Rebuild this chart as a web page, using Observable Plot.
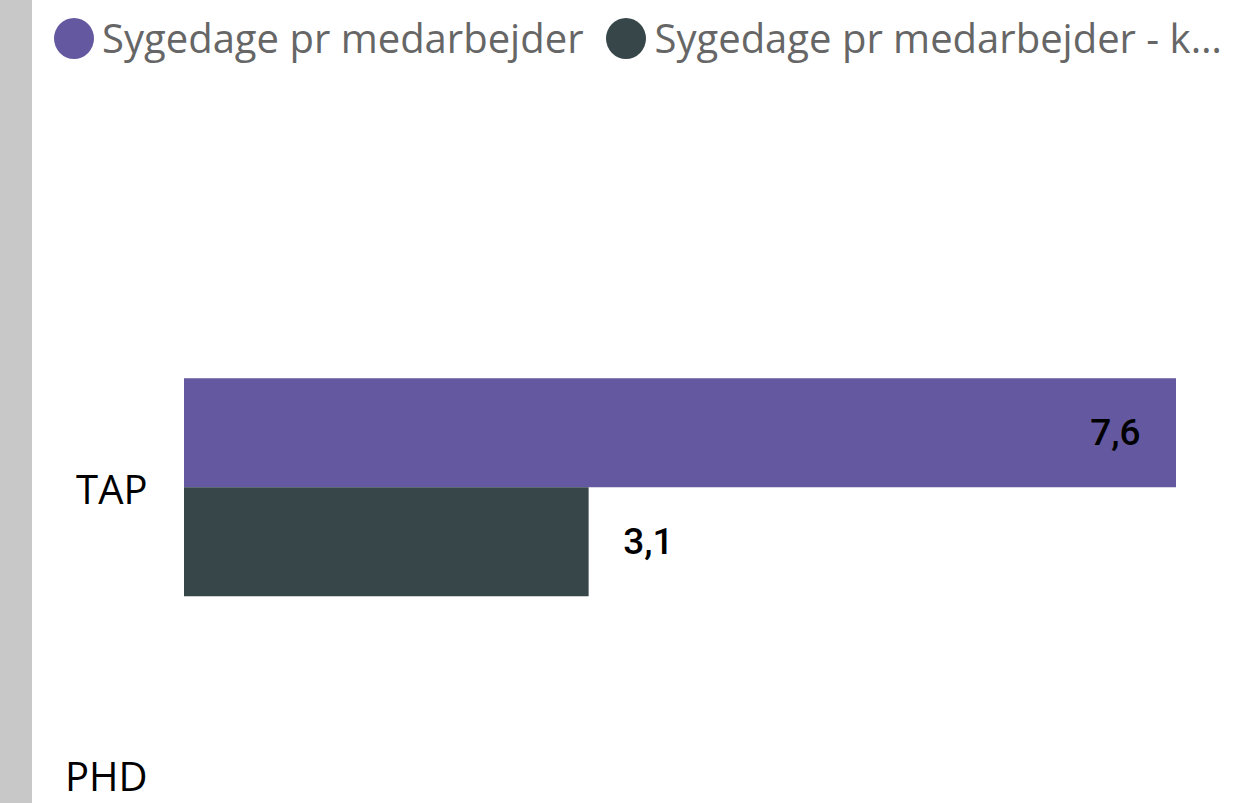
<!DOCTYPE html>
<html><head><meta charset="utf-8">
<script src="https://cdn.jsdelivr.net/npm/d3@7"></script>
<script src="https://cdn.jsdelivr.net/npm/@observablehq/plot@0.6"></script>
<style>
html,body{margin:0;padding:0;background:#fff}
body{width:1243px;height:803px;overflow:hidden;position:relative;font-family:"Open Sans",sans-serif}
#strip{position:absolute;left:0;top:0;width:32px;height:803px;background:#c8c8c8}
#legend{position:relative;height:76px;margin-left:54px;display:flex;align-items:center;white-space:nowrap}
.item{display:flex;align-items:center;margin-right:23px}
.dot{width:40px;height:41px;border-radius:50%;margin-right:8px;flex:none}
.lab{font-size:40px;color:#666;line-height:1}
#chart{position:relative;margin-top:4px}
</style>
</head><body>
<div id="strip"></div>
<div id="legend"></div>
<div id="chart"></div>
<script>
const categories = ["TAP", "PHD"];
const seriesNames = ["Sygedage pr medarbejder", "Sygedage pr medarbejder - k…"];
const seriesColors = ["#6459A0", "#374649"];
const tapValues = [7.6, 3.1];

const data = tapValues.map((v, i) => ({category: "TAP", series: seriesNames[i], value: v}));
const fmt = d => d.value.toFixed(1).replace(".", ",");
const maxV = d3.max(data, d => d.value);

const legend = document.getElementById("legend");
seriesNames.forEach((s, i) => {
  const it = document.createElement("div"); it.className = "item";
  const dot = document.createElement("div"); dot.className = "dot"; dot.style.background = seriesColors[i];
  const lab = document.createElement("span"); lab.className = "lab"; lab.textContent = s;
  it.appendChild(dot); it.appendChild(lab); legend.appendChild(it);
});

const fyAxis = Plot.axisFy
  ? [Plot.axisFy({anchor: "left", tickSize: 0, tickPadding: 37, label: null, dy: 3, fontSize: 40})]
  : [];

const chart = Plot.plot({
  width: 1243,
  height: 723,
  marginLeft: 184,
  marginRight: 67,
  marginTop: 263.75,
  marginBottom: 0,
  style: {fontFamily: "'Open Sans', sans-serif", fontSize: "40px", color: "#000", background: "transparent", overflow: "visible"},
  x: {domain: [0, maxV], axis: null},
  y: {domain: seriesNames, axis: null, paddingInner: 0, paddingOuter: 0.3128},
  fy: {domain: categories, range: [263.75, 838.75], padding: 0, axis: Plot.axisFy ? null : "left", label: null, tickSize: 0, tickPadding: 37},
  color: {domain: seriesNames, range: seriesColors},
  marks: [
    ...fyAxis,
    Plot.barX(data, {x: "value", y: "series", fy: "category", fill: "series"}),
    Plot.text(data.filter(d => d.value > maxV * 0.6), {x: "value", y: "series", fy: "category", text: fmt, textAnchor: "end", dx: -36, fill: "#000", fontSize: 37, fontFamily: "Roboto", fontWeight: 500}),
    Plot.text(data.filter(d => d.value <= maxV * 0.6), {x: "value", y: "series", fy: "category", text: fmt, textAnchor: "start", dx: 34, fill: "#000", fontSize: 37, fontFamily: "Roboto", fontWeight: 500})
  ]
});
document.getElementById("chart").appendChild(chart);
</script>
</body></html>
